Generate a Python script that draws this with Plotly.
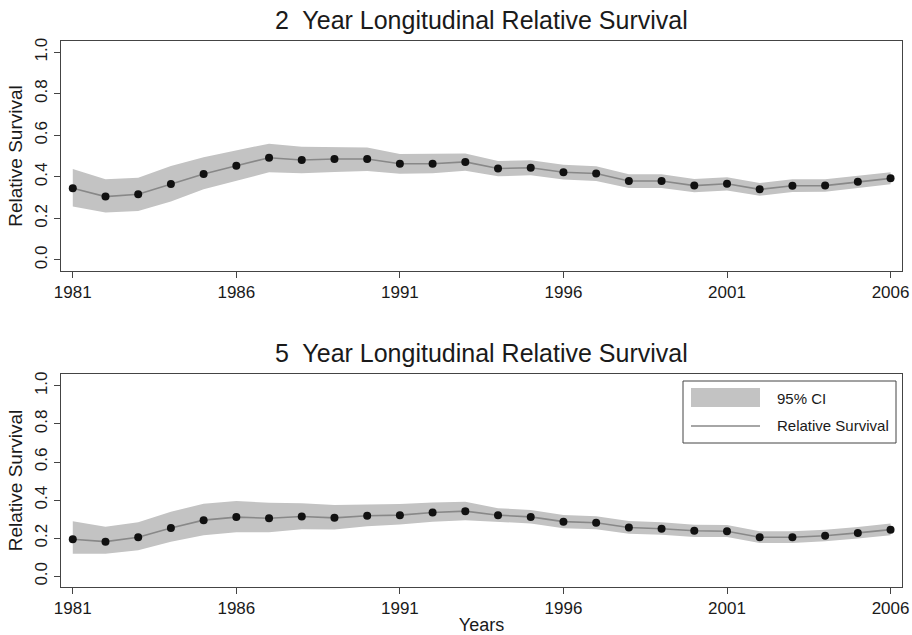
import plotly.graph_objects as go

years = list(range(1981, 2007))

rs2 = [0.345, 0.305, 0.316, 0.366, 0.414, 0.454, 0.492, 0.481, 0.486, 0.486,
       0.463, 0.463, 0.472, 0.440, 0.444, 0.422, 0.416, 0.380, 0.380, 0.358,
       0.367, 0.340, 0.357, 0.358, 0.376, 0.393]
rs2_hi = [0.438, 0.388, 0.396, 0.452, 0.494, 0.526, 0.560, 0.545, 0.545, 0.542,
          0.510, 0.510, 0.512, 0.476, 0.480, 0.458, 0.451, 0.413, 0.413, 0.390,
          0.398, 0.371, 0.388, 0.389, 0.405, 0.422]
rs2_lo = [0.257, 0.229, 0.236, 0.281, 0.340, 0.380, 0.422, 0.417, 0.423, 0.428,
          0.415, 0.417, 0.430, 0.403, 0.408, 0.387, 0.380, 0.347, 0.347, 0.326,
          0.334, 0.309, 0.327, 0.328, 0.345, 0.364]

rs5 = [0.195, 0.182, 0.205, 0.254, 0.295, 0.311, 0.305, 0.314, 0.307, 0.318,
       0.321, 0.335, 0.342, 0.321, 0.312, 0.287, 0.281, 0.256, 0.250, 0.239,
       0.237, 0.205, 0.205, 0.213, 0.228, 0.245]
rs5_hi = [0.289, 0.260, 0.284, 0.339, 0.381, 0.395, 0.386, 0.384, 0.375, 0.377,
          0.379, 0.388, 0.391, 0.358, 0.348, 0.322, 0.316, 0.290, 0.284, 0.271,
          0.269, 0.236, 0.236, 0.245, 0.259, 0.277]
rs5_lo = [0.118, 0.118, 0.137, 0.181, 0.216, 0.232, 0.232, 0.247, 0.246, 0.263,
          0.272, 0.286, 0.295, 0.285, 0.277, 0.252, 0.247, 0.223, 0.218, 0.207,
          0.206, 0.175, 0.175, 0.184, 0.198, 0.216]

x_ticks = [1981, 1986, 1991, 1996, 2001, 2006]
y_ticks = [0.0, 0.2, 0.4, 0.6, 0.8, 1.0]
titles = ["2  Year Longitudinal Relative Survival", "5  Year Longitudinal Relative Survival"]
legend_labels = ["95% CI", "Relative Survival"]

BAND = "#c3c3c3"
LINE = "#888888"
AX = "#444444"
TXT = "#1a1a1a"
FONT = "Liberation Sans, Arial, Helvetica, sans-serif"

W, H = 912, 635
ML, MR, MT, MB = 61, 10, 41, 48
PW, PH = W - ML - MR, H - MT - MB


def px(xp):
    return (xp - ML) / PW


def py(yp):
    return (H - MB - yp) / PH


fig = go.Figure()

panels = [(rs2, rs2_hi, rs2_lo, "x", "y"), (rs5, rs5_hi, rs5_lo, "x2", "y2")]
for v, hi, lo, xa, ya in panels:
    fig.add_trace(go.Scatter(
        x=years + years[::-1], y=hi + lo[::-1], fill="toself", fillcolor=BAND,
        line=dict(width=0, color=BAND), mode="lines", name=legend_labels[0],
        showlegend=False, hoverinfo="skip", xaxis=xa, yaxis=ya))
    fig.add_trace(go.Scatter(
        x=years, y=v, mode="lines", line=dict(color=LINE, width=1.6),
        name=legend_labels[1], showlegend=False, xaxis=xa, yaxis=ya))
    fig.add_trace(go.Scatter(
        x=years, y=v, mode="markers", marker=dict(color="#111111", size=8),
        showlegend=False, xaxis=xa, yaxis=ya))

axis_common = dict(showline=True, linecolor=AX, linewidth=1, mirror=True,
                   showgrid=False, zeroline=False, ticks="outside", ticklen=6,
                   tickcolor=AX, tickfont=dict(size=17, color=TXT, family=FONT),
                   automargin=False)

ytitle = dict(text="Relative Survival", font=dict(size=19, family=FONT, color=TXT), standoff=4)

# legend drawn inside the lower panel
shapes = [
    dict(type="rect", xref="paper", yref="paper", x0=px(683), x1=px(896), y0=py(443), y1=py(381),
         line=dict(color=AX, width=1), fillcolor="white", layer="above"),
    dict(type="rect", xref="paper", yref="paper", x0=px(691), x1=px(760), y0=py(407), y1=py(388),
         line=dict(width=0), fillcolor=BAND, layer="above"),
    dict(type="line", xref="paper", yref="paper", x0=px(691), x1=px(760), y0=py(426), y1=py(426),
         line=dict(color=LINE, width=1.6), layer="above"),
]

annotations = [
    dict(text=titles[0], x=0.5, y=1, xref="paper", yref="paper",
         xanchor="center", yanchor="bottom", yshift=5, showarrow=False,
         font=dict(size=25, family=FONT, color=TXT)),
    dict(text=titles[1], x=0.5, y=py(374), xref="paper", yref="paper",
         xanchor="center", yanchor="bottom", yshift=5, showarrow=False,
         font=dict(size=25, family=FONT, color=TXT)),
    dict(text=legend_labels[0], x=px(775), y=py(398), xref="paper", yref="paper",
         xanchor="left", yanchor="middle", showarrow=False,
         font=dict(size=15, family=FONT, color=TXT)),
    dict(text=legend_labels[1], x=px(775), y=py(426), xref="paper", yref="paper",
         xanchor="left", yanchor="middle", showarrow=False,
         font=dict(size=15, family=FONT, color=TXT)),
]

fig.update_layout(
    width=W, height=H,
    margin=dict(l=ML, r=MR, t=MT, b=MB),
    paper_bgcolor="white", plot_bgcolor="white",
    font=dict(family=FONT, color=TXT),
    showlegend=False,
    xaxis=dict(domain=[0, 1], anchor="y", range=[1980.64, 2006.35],
               tickvals=x_ticks, **axis_common),
    yaxis=dict(domain=[py(271), 1], anchor="x", range=[-0.053, 1.054],
               tickvals=y_ticks, ticktext=[f"{t:.1f}" for t in y_ticks], tickangle=-90,
               title=ytitle, **axis_common),
    xaxis2=dict(domain=[0, 1], anchor="y2", range=[1980.64, 2006.35],
                tickvals=x_ticks,
                title=dict(text="Years", font=dict(size=18, family=FONT, color=TXT), standoff=3),
                **axis_common),
    yaxis2=dict(domain=[0, py(374)], anchor="x2", range=[-0.056, 1.062],
                tickvals=y_ticks, ticktext=[f"{t:.1f}" for t in y_ticks], tickangle=-90,
                title=ytitle, **axis_common),
    shapes=shapes,
    annotations=annotations,
)

fig.write_html("out.html")
